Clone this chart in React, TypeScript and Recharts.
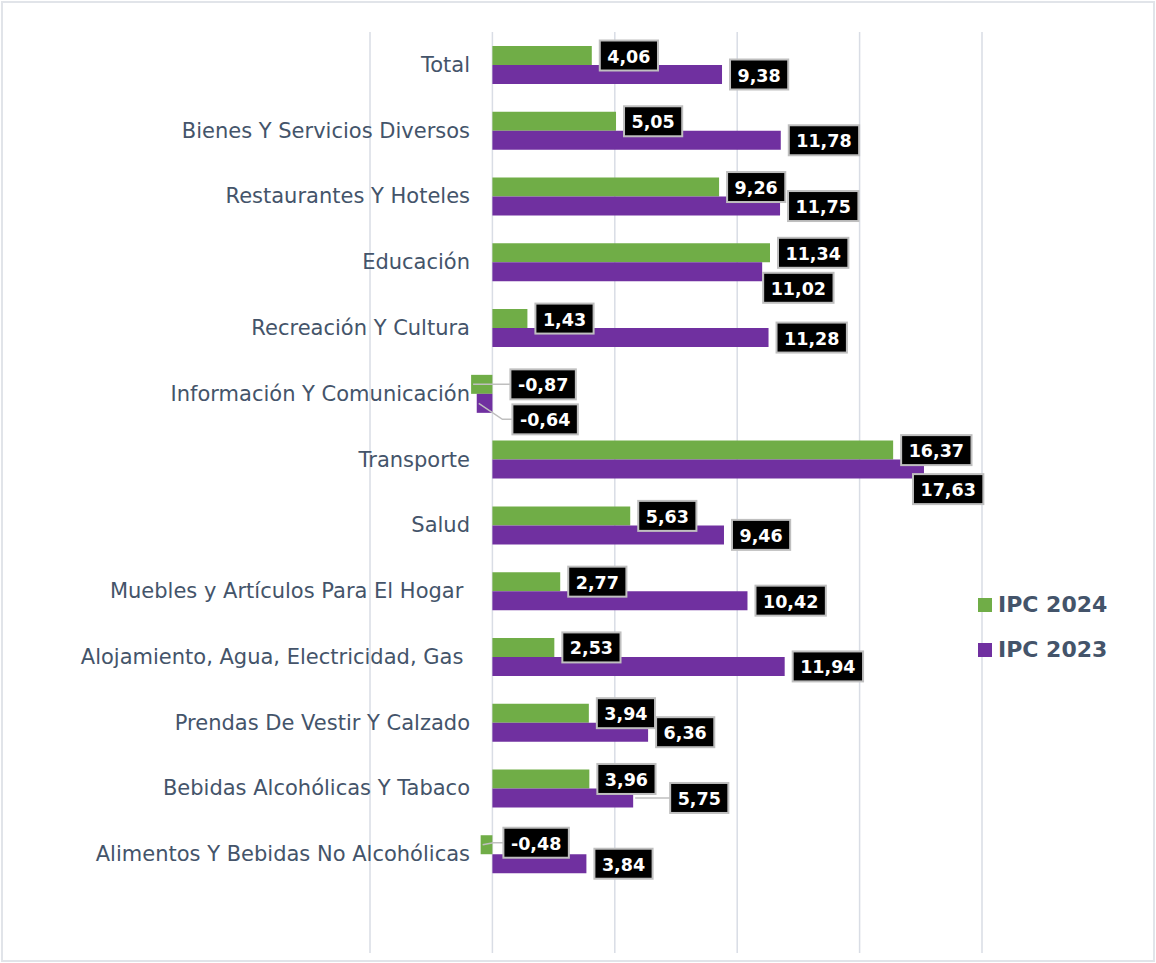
import { Bar, BarChart, CartesianGrid, LabelList, Legend, XAxis, YAxis } from 'recharts';

const categories = [
  'Total',
  'Bienes Y Servicios Diversos',
  'Restaurantes Y Hoteles',
  'Educación',
  'Recreación Y Cultura',
  'Información Y Comunicación',
  'Transporte',
  'Salud',
  'Muebles y Artículos Para El Hogar ',
  'Alojamiento, Agua, Electricidad, Gas ',
  'Prendas De Vestir Y Calzado',
  'Bebidas Alcohólicas Y Tabaco',
  'Alimentos Y Bebidas No Alcohólicas',
];

const ipc2024 = [4.06, 5.05, 9.26, 11.34, 1.43, -0.87, 16.37, 5.63, 2.77, 2.53, 3.94, 3.96, -0.48];
const ipc2023 = [9.38, 11.78, 11.75, 11.02, 11.28, -0.64, 17.63, 9.46, 10.42, 11.94, 6.36, 5.75, 3.84];

const xDomain = [-5, 20];
const xTicks = [-5, 0, 5, 10, 15, 20];
const legendOrder = ['IPC 2024', 'IPC 2023'];

// label boxes that were moved by hand in the original, [dx, dy]
const shift2024: Record<string, [number, number]> = {
  'Información Y Comunicación': [10, 0],
  'Alimentos Y Bebidas No Alcohólicas': [3, -2],
};
const shift2023: Record<string, [number, number]> = {
  Educación: [-7, 16],
  'Información Y Comunicación': [12, 16],
  Transporte: [-19, 20],
  'Bebidas Alcohólicas Y Tabaco': [29, 0],
};

const data = categories.map((name, i) => ({ name, ipc2024: ipc2024[i], ipc2023: ipc2023[i] }));

const GREEN = '#70ad47';
const PURPLE = '#7030a0';
const TEXT = '#44546a';
const FONT = '"DejaVu Sans", Verdana, sans-serif';

const fmt = (v: number) => v.toFixed(2).replace('.', ',');

function textWidth(s: string, size: number) {
  let w = 0;
  for (const c of s) w += c === ',' ? 0.38 : c === '-' ? 0.415 : 0.696;
  return w * size;
}

function CategoryTick(props: any) {
  const { y, payload } = props;
  return (
    <text
      x={470}
      y={y}
      textAnchor="end"
      dominantBaseline="central"
      fontFamily={FONT}
      fontSize={21}
      fill={TEXT}
      style={{ whiteSpace: 'pre' }}
    >
      {payload.value}
    </text>
  );
}

function makeLabel(shifts: Record<string, [number, number]>) {
  return (props: any) => {
    const vb = props.viewBox || {};
    const x = Number(props.x ?? vb.x);
    const y = Number(props.y ?? vb.y);
    const w = Number(props.width ?? vb.width);
    const h = Number(props.height ?? vb.height);
    const value = Number(props.value);
    if (!isFinite(x) || !isFinite(value)) return null;
    const left = Math.min(x, x + w);
    const right = Math.max(x, x + w);
    const cy = y + h / 2;
    const anchorX = value < 0 ? left : right;
    const [dx, dy] = shifts[categories[props.index]] || [0, 0];
    const txt = fmt(value);
    const bw = textWidth(txt, 17.5) + 15;
    const bh = 30;
    const bx = right + 8 + dx;
    const by = cy + dy;
    const leader = bx - anchorX > 14;
    return (
      <g>
        {leader && (
          <polyline
            points={`${anchorX + 2},${cy} ${bx - 10},${by} ${bx},${by}`}
            fill="none"
            stroke="#bfbfbf"
            strokeWidth={1.5}
          />
        )}
        <rect x={bx} y={by - bh / 2} width={bw} height={bh} fill="#000" stroke="#bfbfbf" strokeWidth={2} />
        <text
          x={bx + bw / 2}
          y={by + 1}
          textAnchor="middle"
          dominantBaseline="central"
          fontFamily={FONT}
          fontWeight="bold"
          fontSize={17.5}
          fill="#fff"
        >
          {txt}
        </text>
      </g>
    );
  };
}

function LegendBox(props: any) {
  const items = [...(props.payload || [])].sort(
    (a: any, b: any) => legendOrder.indexOf(a.value) - legendOrder.indexOf(b.value)
  );
  return (
    <div style={{ fontFamily: FONT }}>
      {items.map((it: any) => (
        <div key={it.value} style={{ display: 'flex', alignItems: 'center', height: 45 }}>
          <span style={{ width: 14, height: 14, background: it.color, marginRight: 6 }} />
          <span style={{ fontSize: 22, fontWeight: 'bold', color: TEXT }}>{it.value}</span>
        </div>
      ))}
    </div>
  );
}

// vertical grid lines at every x tick
function gridX(props: any) {
  const s = props?.xAxis?.scale;
  if (typeof s === 'function') return xTicks.map((t) => s(t));
  if (s && typeof s.map === 'function') return xTicks.map((t) => s.map(t));
  const { left, width } = props.offset;
  return xTicks.map((t) => left + ((t - xDomain[0]) / (xDomain[1] - xDomain[0])) * width);
}

export default function App() {
  return (
    <div style={{ position: 'absolute', left: 0, top: 0, width: 1156, height: 963, background: '#fff' }}>
      <div
        style={{
          position: 'absolute',
          left: 1,
          top: 1,
          width: 1154,
          height: 961,
          boxSizing: 'border-box',
          border: '2px solid #e1e4e9',
        }}
      />
      <div style={{ position: 'absolute', left: 0, top: 0 }}>
        <BarChart
          width={1156}
          height={963}
          data={data}
          layout="vertical"
          margin={{ top: 32, right: 174, bottom: 10, left: 0 }}
          barGap={0}
        >
          <CartesianGrid
            horizontal={false}
            stroke="#d9dde5"
            strokeWidth={1.5}
            verticalCoordinatesGenerator={gridX}
          />
          <XAxis
            type="number"
            domain={xDomain}
            ticks={xTicks}
            interval={0}
            height={0}
            tick={false}
            axisLine={false}
            tickLine={false}
          />
          <YAxis
            type="category"
            dataKey="name"
            width={370}
            interval={0}
            axisLine={false}
            tickLine={false}
            tick={<CategoryTick />}
            padding={{ top: 0, bottom: 66 }}
          />
          <Legend
            layout="vertical"
            align="center"
            verticalAlign="middle"
            content={<LegendBox />}
            wrapperStyle={{ position: 'absolute', left: 978, top: 582, width: 170, height: 90 }}
          />
          <Bar dataKey="ipc2024" name="IPC 2024" fill={GREEN} barSize={19} isAnimationActive={false}>
            <LabelList dataKey="ipc2024" content={makeLabel(shift2024)} />
          </Bar>
          <Bar dataKey="ipc2023" name="IPC 2023" fill={PURPLE} barSize={19} isAnimationActive={false}>
            <LabelList dataKey="ipc2023" content={makeLabel(shift2023)} />
          </Bar>
        </BarChart>
      </div>
    </div>
  );
}
